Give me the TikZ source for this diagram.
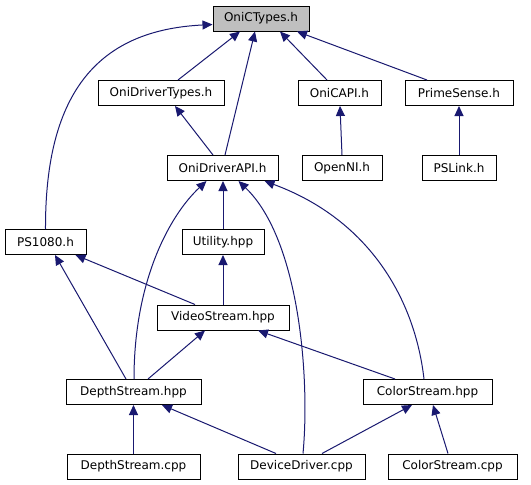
\documentclass[tikz,border=0pt]{standalone}
\usepackage{fontspec}
\setmainfont{DejaVu Sans}
\usetikzlibrary{arrows.meta}
\definecolor{edgeblue}{HTML}{191970}
\definecolor{rootgray}{HTML}{BFBFBF}
\tikzstyle{every node}=[font=\fontsize{12}{14}\selectfont]
\tikzstyle{file}=[draw=black,line width=1pt,minimum height=25pt,inner sep=0pt]
\tikzstyle{incl}=[draw=edgeblue,line width=1pt,-{Triangle[length=10pt,width=9pt]}]

\begin{document}
\begin{tikzpicture}[x=1pt,y=-1pt]
\useasboundingbox[fill=white] (0,0) rectangle (531,485);
%Headers (top)
	\node[file,fill=rootgray,minimum width=96pt] (OniCTypes) at (261,18.5) {OniCTypes.h};
	\node[file,minimum width=126pt] (OniDriverTypes) at (161,93) {OniDriverTypes.h};
	\node[file,minimum width=83pt] (OniCAPI) at (339.5,93) {OniCAPI.h};
	\node[file,minimum width=108pt] (PrimeSense) at (459,93) {PrimeSense.h};
	\node[file,minimum width=111pt] (OniDriverAPI) at (222.5,168) {OniDriverAPI.h};
	\node[file,minimum width=80pt] (OpenNI) at (342,168) {OpenNI.h};
	\node[file,minimum width=74pt] (PSLink) at (459,168) {PSLink.h};
	\node[file,minimum width=81pt] (PS1080) at (45.5,242) {PS1080.h};
	\node[file,minimum width=82pt] (Utility) at (223,242) {Utility.hpp};
	\node[file,minimum width=132pt] (VideoStream) at (223,317.5) {VideoStream.hpp};
	\node[file,minimum width=135pt] (DepthHpp) at (133.5,392) {DepthStream.hpp};
	\node[file,minimum width=129pt] (ColorHpp) at (427.5,392) {ColorStream.hpp};
%Sources (bottom)
	\node[file,minimum width=133pt] (DepthCpp) at (133.5,466.5) {DepthStream.cpp};
	\node[file,minimum width=127pt] (DeviceDriver) at (301.5,466.5) {DeviceDriver.cpp};
	\node[file,minimum width=129pt] (ColorCpp) at (452.5,466.5) {ColorStream.cpp};
%Includes of OniCTypes.h
	\draw[incl] ([xshift=17pt]OniDriverTypes.north) -- ([xshift=-21pt]OniCTypes.south);
	\draw[incl] ([xshift=2.5pt]OniDriverAPI.north) -- ([xshift=-6pt]OniCTypes.south);
	\draw[incl] ([xshift=-12.5pt]OniCAPI.north) -- ([xshift=19pt]OniCTypes.south);
	\draw[incl] ([xshift=-32pt]PrimeSense.north) -- ([xshift=36pt]OniCTypes.south);
	\draw[incl] (PS1080.north) .. controls (45,90) and (100,30) .. ([yshift=-6pt]OniCTypes.west);
%Second row
	\draw[incl] ([xshift=-9.5pt]OniDriverAPI.north) -- ([xshift=14pt]OniDriverTypes.south);
	\draw[incl] (OpenNI.north) -- ([xshift=0.5pt]OniCAPI.south);
	\draw[incl] (PSLink.north) -- (PrimeSense.south);
%Includes of OniDriverAPI.h
	\draw[incl] (Utility.north) -- ([xshift=0.5pt]OniDriverAPI.south);
	\draw[incl] ([xshift=0.5pt]DepthHpp.north) .. controls (134,280) and (170,215) .. ([xshift=-16pt]OniDriverAPI.south);
	\draw[incl] ([xshift=1.5pt]DeviceDriver.north) .. controls (310,380) and (300,240) .. ([xshift=16pt]OniDriverAPI.south);
	\draw[incl] ([xshift=-3.5pt]ColorHpp.north) .. controls (415,300) and (370,220) .. ([xshift=42pt]OniDriverAPI.south);
%Streams
	\draw[incl] ([xshift=-28pt]VideoStream.north) -- ([xshift=30pt]PS1080.south);
	\draw[incl] ([xshift=-7.5pt]DepthHpp.north) -- ([xshift=9.5pt]PS1080.south);
	\draw[incl] (VideoStream.north) -- (Utility.south);
	\draw[incl] ([xshift=14.5pt]DepthHpp.north) -- ([xshift=-18pt]VideoStream.south);
	\draw[incl] ([xshift=-32.5pt]ColorHpp.north) -- ([xshift=35pt]VideoStream.south);
	\draw[incl] (DepthCpp.north) -- (DepthHpp.south);
	\draw[incl] ([xshift=-25.5pt]DeviceDriver.north) -- ([xshift=28.5pt]DepthHpp.south);
	\draw[incl] ([xshift=20.5pt]DeviceDriver.north) -- ([xshift=-15.5pt]ColorHpp.south);
	\draw[incl] ([xshift=-4.5pt]ColorCpp.north) -- ([xshift=5.5pt]ColorHpp.south);
\end{tikzpicture}
\end{document}
